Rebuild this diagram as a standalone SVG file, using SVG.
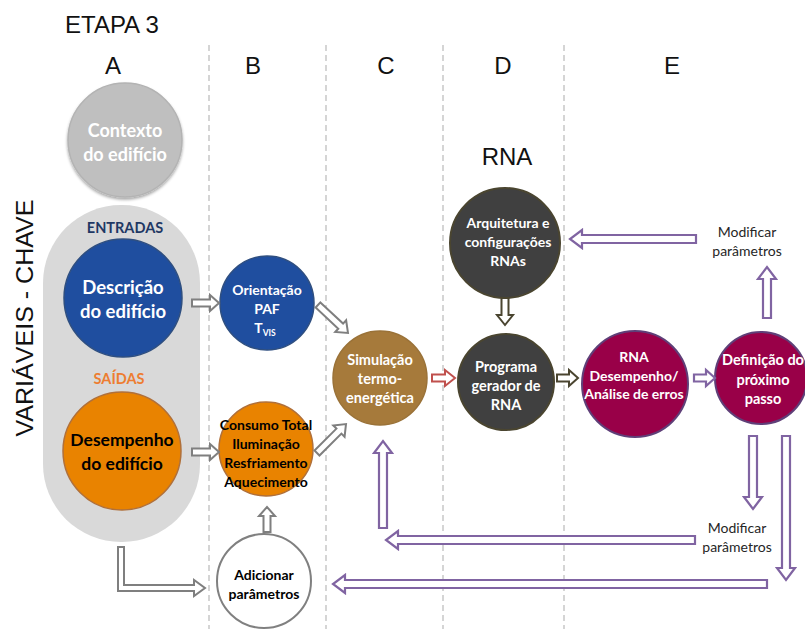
<svg xmlns="http://www.w3.org/2000/svg" width="805" height="629" viewBox="0 0 805 629">
  <style>
    .title { font-family: "Liberation Sans", Arial, sans-serif; font-size: 24px; fill: #111; }
    .lbl { font-family: Lato, "Liberation Sans", Arial, sans-serif; font-weight: bold; text-anchor: middle; }
    .note { font-family: Lato, "Liberation Sans", Arial, sans-serif; font-size: 14px; fill: #262626; text-anchor: middle; }
    .w { fill: #ffffff; }
    .k { fill: #000000; }
    .divider { stroke: #c8c8c8; stroke-width: 1.5; stroke-dasharray: 6 4; fill: none; }
    .ag { fill: #ffffff; stroke: #7f7f7f; stroke-width: 2; stroke-linejoin: miter; }
    .ap { fill: #ffffff; stroke: #8064a2; stroke-width: 2.2; stroke-linejoin: miter; }
    .ao { fill: #ffffff; stroke: #4a4530; stroke-width: 2; stroke-linejoin: miter; }
    .ar { fill: #ffffff; stroke: #c0504d; stroke-width: 2; stroke-linejoin: miter; }
  </style>
  <defs>
    <filter id="shadow" x="-20%" y="-20%" width="140%" height="140%">
      <feGaussianBlur in="SourceAlpha" stdDeviation="1.5"/>
      <feOffset dx="0" dy="1.5" result="b"/>
      <feComponentTransfer><feFuncA type="linear" slope="0.35"/></feComponentTransfer>
      <feMerge><feMergeNode/><feMergeNode in="SourceGraphic"/></feMerge>
    </filter>
  </defs>

  <rect width="805" height="629" fill="#ffffff"/>

  <!-- column dividers -->
  <g id="dividers">
    <line class="divider" x1="209" y1="45" x2="209" y2="629"/>
    <line class="divider" x1="326" y1="45" x2="326" y2="629"/>
    <line class="divider" x1="443" y1="45" x2="443" y2="629"/>
    <line class="divider" x1="564" y1="45" x2="564" y2="629"/>
  </g>

  <!-- headings -->
  <g id="headings">
    <text class="title" x="65" y="33">ETAPA 3</text>
    <text class="title" x="113" y="74" text-anchor="middle">A</text>
    <text class="title" x="253" y="74" text-anchor="middle">B</text>
    <text class="title" x="386" y="74" text-anchor="middle">C</text>
    <text class="title" x="503" y="74" text-anchor="middle">D</text>
    <text class="title" x="672" y="74" text-anchor="middle">E</text>
    <text class="title" x="507" y="165" text-anchor="middle" font-size="25">RNA</text>
    <text class="title" transform="translate(33,318) rotate(-90)" text-anchor="middle" font-size="26" textLength="237" lengthAdjust="spacingAndGlyphs">VARIÁVEIS - CHAVE</text>
  </g>

  <!-- key variables panel -->
  <g id="panel">
    <rect x="43" y="205" width="157" height="337" rx="78" ry="78" fill="#d9d9d9"/>
    <text class="lbl" x="125" y="233" font-size="14.5" fill="#1f3864">ENTRADAS</text>
    <text class="lbl" x="119" y="384" font-size="14.5" fill="#ed7d31">SAÍDAS</text>
  </g>

  <g id="contexto">
    <circle cx="125" cy="140" r="57" fill="#bfbfbf" stroke="#b3b3b3" stroke-width="1.5" filter="url(#shadow)"/>
    <text class="lbl w" x="125" y="137" font-size="18">Contexto</text>
    <text class="lbl w" x="125" y="161" font-size="18">do edifício</text>
  </g>

  <g id="descricao">
    <circle cx="123" cy="298" r="59" fill="#1f4e9f" stroke="#2f4f80" stroke-width="1.5"/>
    <text class="lbl w" x="123" y="294" font-size="18.5">Descrição</text>
    <text class="lbl w" x="123" y="318" font-size="18.5">do edifício</text>
  </g>

  <g id="desempenho">
    <circle cx="122" cy="451" r="59" fill="#e98300" stroke="#b0703a" stroke-width="1.5"/>
    <text class="lbl k" x="122" y="446" font-size="17.5">Desempenho</text>
    <text class="lbl k" x="122" y="470" font-size="17.5">do edifício</text>
  </g>

  <g id="orientacao">
    <circle cx="267" cy="303" r="47" fill="#1f4e9f" stroke="#2f4f80" stroke-width="1.5"/>
    <text class="lbl w" x="267" y="295" font-size="14">Orientação</text>
    <text class="lbl w" x="267" y="314" font-size="14">PAF</text>
    <text class="lbl w" x="265" y="333" font-size="14">T<tspan font-size="8.5" dy="3">VIS</tspan></text>
  </g>

  <g id="consumo">
    <circle cx="266" cy="449" r="47" fill="#e98300" stroke="#b0703a" stroke-width="1.5"/>
    <text class="lbl k" x="266" y="430" font-size="14">Consumo Total</text>
    <text class="lbl k" x="266" y="449" font-size="14">Iluminação</text>
    <text class="lbl k" x="266" y="468" font-size="14">Resfriamento</text>
    <text class="lbl k" x="266" y="487" font-size="14">Aquecimento</text>
  </g>

  <g id="adicionar">
    <circle cx="264" cy="581" r="47" fill="#ffffff" stroke="#808080" stroke-width="2"/>
    <text class="lbl k" x="264" y="580" font-size="14">Adicionar</text>
    <text class="lbl k" x="264" y="599" font-size="14">parâmetros</text>
  </g>

  <g id="simulacao">
    <circle cx="380" cy="378" r="47" fill="#a67a3b" stroke="#9a7238" stroke-width="1.5"/>
    <text class="lbl w" x="380" y="365" font-size="14.5">Simulação</text>
    <text class="lbl w" x="380" y="384" font-size="14.5">termo-</text>
    <text class="lbl w" x="380" y="403" font-size="14.5">energética</text>
  </g>

  <g id="arquitetura">
    <circle cx="505" cy="243" r="55" fill="#404040" stroke="#4a4530" stroke-width="2"/>
    <text class="lbl w" x="508" y="228" font-size="14">Arquitetura e</text>
    <text class="lbl w" x="508" y="247" font-size="14">configurações</text>
    <text class="lbl w" x="508" y="266" font-size="14">RNAs</text>
  </g>

  <g id="programa">
    <circle cx="506" cy="382" r="48" fill="#404040" stroke="#4a4530" stroke-width="2"/>
    <text class="lbl w" x="506" y="372" font-size="14.5">Programa</text>
    <text class="lbl w" x="506" y="391" font-size="14.5">gerador de</text>
    <text class="lbl w" x="506" y="410" font-size="14.5">RNA</text>
  </g>

  <g id="rna-desempenho">
    <circle cx="635" cy="384" r="53" fill="#990048" stroke="#5f3f78" stroke-width="2"/>
    <text class="lbl w" x="634" y="362" font-size="14">RNA</text>
    <text class="lbl w" x="634" y="381" font-size="14">Desempenho/</text>
    <text class="lbl w" x="634" y="399" font-size="14">Análise de erros</text>
  </g>

  <g id="definicao">
    <circle cx="761" cy="378" r="46" fill="#990048" stroke="#5f3f78" stroke-width="2"/>
    <text class="lbl w" x="763" y="365" font-size="14.5">Definição do</text>
    <text class="lbl w" x="763" y="385" font-size="14.5">próximo</text>
    <text class="lbl w" x="763" y="404" font-size="14.5">passo</text>
  </g>

  <g id="notes">
    <text class="note" x="747" y="237">Modificar</text>
    <text class="note" x="747" y="256">parâmetros</text>
    <text class="note" x="737" y="533">Modificar</text>
    <text class="note" x="737" y="552">parâmetros</text>
  </g>

  <!-- block arrows -->
  <g id="connectors">
    <!-- descrição -> orientação -->
    <polygon class="ag" points="192,299.5 210,299.5 210,295 219,303 210,311 210,306.5 192,306.5"/>
    <!-- desempenho -> consumo -->
    <polygon class="ag" points="192,448.5 210,448.5 210,444 219,452 210,460 210,455.5 192,455.5"/>
    <!-- orientação -> simulação -->
    <polygon class="ag" transform="translate(318,305) rotate(43)" points="0,-3.5 31,-3.5 31,-8 41,0 31,8 31,3.5 0,3.5"/>
    <!-- consumo -> simulação -->
    <polygon class="ag" transform="translate(317,453) rotate(-45)" points="0,-3.5 31,-3.5 31,-8 41,0 31,8 31,3.5 0,3.5"/>
    <!-- adicionar -> consumo -->
    <polygon class="ag" points="263.5,532 263.5,516 259,516 267,507 275,516 270.5,516 270.5,532"/>
    <!-- panel -> adicionar -->
    <polygon class="ag" points="118,547 124,547 124,585 194,585 194,580 205,588 194,596 194,591 118,591"/>
    <!-- simulação -> programa -->
    <polygon class="ar" points="432,374.5 445,374.5 445,370 455,378 445,386 445,381.5 432,381.5"/>
    <!-- arquitetura -> programa -->
    <polygon class="ao" points="501.5,298 508.5,298 508.5,315 513,315 505,325 497,315 501.5,315"/>
    <!-- programa -> rna desempenho -->
    <polygon class="ao" points="557,374.5 569,374.5 569,370 578,378 569,386 569,381.5 557,381.5"/>
    <!-- rna desempenho -> definição -->
    <polygon class="ap" points="694,374.5 706,374.5 706,370 715,378 706,386 706,381.5 694,381.5"/>
    <!-- definição -> modificar (up) -->
    <polygon class="ap" points="763,318 763,279 758,279 767,267 776,279 771,279 771,318"/>
    <!-- modificar -> arquitetura -->
    <polygon class="ap" points="696,235 582,235 582,230 570,239 582,248 582,243 696,243"/>
    <!-- definição -> modificar (down) -->
    <polygon class="ap" points="749,436 749,497 744,497 753,509 762,497 757,497 757,436"/>
    <!-- definição -> adicionar (down) -->
    <polygon class="ap" points="782,436 782,568 777,568 786,580 795,568 790,568 790,436"/>
    <!-- modificar -> simulação (left) -->
    <polygon class="ap" points="695,536 398,536 398,531 386,540 398,549 398,544 695,544"/>
    <!-- -> adicionar (left) -->
    <polygon class="ap" points="767,580 345,580 345,575 333,584 345,593 345,588 767,588"/>
    <!-- -> simulação (up) -->
    <polygon class="ap" points="379,528 379,453 374,453 383,441 392,453 387,453 387,528"/>
  </g>
</svg>
